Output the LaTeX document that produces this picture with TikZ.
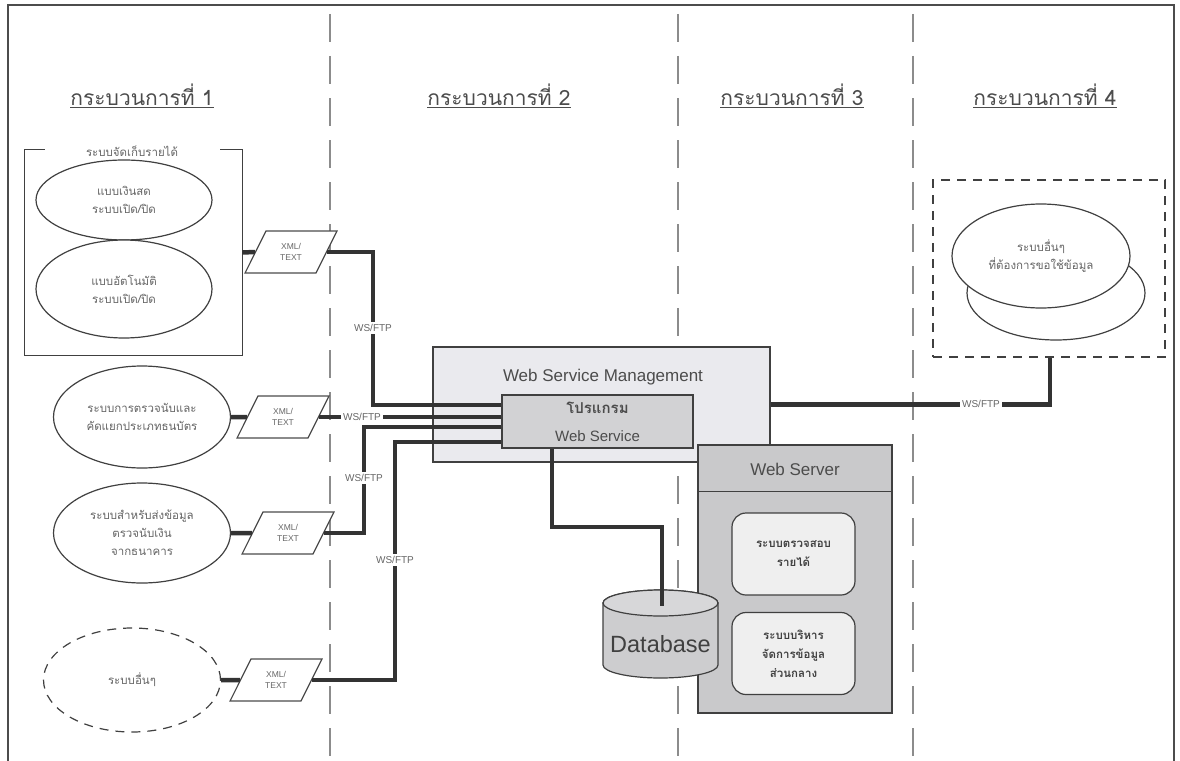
\documentclass[tikz,border=0pt]{standalone}
\usepackage{fontspec}
\setmainfont{Liberation Sans}
\newfontfamily\thai[Script=Thai]{Loma}
\usetikzlibrary{shapes.geometric,calc}
\definecolor{lineC}{HTML}{333333}
\definecolor{wsmFill}{HTML}{EAEAEE}
\definecolor{progFill}{HTML}{D2D2D4}
\definecolor{srvFill}{HTML}{C9C9CB}
\definecolor{boxFill}{HTML}{EFEFEF}
\definecolor{dbFill}{HTML}{CDCDCF}
\begin{document}
\begin{tikzpicture}[x=1pt,y=-1pt,
  sepline/.style={draw=black!45, line width=1.6pt, dash pattern=on 28pt off 14pt},
  heading/.style={font=\thai\fontsize{21}{24}\selectfont, text=black!70, inner sep=0pt},
  ell/.style={ellipse, draw=black!75, line width=1.2pt, fill=white, inner sep=0pt, align=center, font=\thai\fontsize{11.5}{18}\selectfont, text=black!60},
  para/.style={trapezium, trapezium left angle=62, trapezium right angle=118, trapezium stretches=true, draw=black!70, line width=1.2pt, fill=white, minimum width=92pt, minimum height=42pt, inner sep=0pt, align=center, font=\fontsize{8.5}{11}\selectfont, text=black!60},
  conn/.style={draw=lineC, line width=4.5pt},
  wslabel/.style={fill=white, inner sep=2pt, font=\fontsize{10}{12}\selectfont, text=black!60},
  rbox/.style={draw=black!75, line width=1.2pt, fill=boxFill, rounded corners=14pt, minimum width=123pt, minimum height=82pt, align=center, font=\thai\bfseries\fontsize{11.5}{19}\selectfont, text=black!75},
  plainbox/.style={draw=black!75, line width=1.2pt, inner sep=0pt},
]
\useasboundingbox (0,0) rectangle (1180,760);
\fill[white] (0,0) rectangle (1180,760);
\draw[black!70, line width=1.5pt] (8,5) rectangle (1174,775);

% separators
\draw[sepline] (330,14) -- (330,760);
\draw[sepline] (678,14) -- (678,760);
\draw[sepline] (913,14) -- (913,760);

% headings
\node[heading] (h1) at (142,96) {\underline{กระบวนการที่ 1}};
\node[heading] (h2) at (499,96) {\underline{กระบวนการที่ 2}};
\node[heading] (h3) at (792,96) {\underline{กระบวนการที่ 3}};
\node[heading] (h4) at (1045,96) {\underline{กระบวนการที่ 4}};

% group box of process 1
\node[minimum width=217pt, minimum height=205pt, inner sep=0pt] (grp) at (133.5,252.5) {};
\draw[black!75, line width=1.2pt] ($(grp.north west)+(20,0)$) -- (grp.north west) -- (grp.south west) -- (grp.south east) -- (grp.north east) -- ($(grp.north east)+(-22,0)$);
\node[font=\thai\fontsize{11.5}{12}\selectfont, text=black!60] (grpl) at (132,151) {ระบบจัดเก็บรายได้};

\node[ell, minimum width=176pt, minimum height=80pt] (e1) at (124,200) {แบบเงินสด\\ระบบเปิด/ปิด};
\node[ell, minimum width=176pt, minimum height=98pt] (e2) at (124,289) {แบบอัตโนมัติ\\ระบบเปิด/ปิด};
\node[ell, minimum width=177pt, minimum height=102pt] (e3) at (142,417) {ระบบการตรวจนับและ\\คัดแยกประเภทธนบัตร};
\node[ell, minimum width=177pt, minimum height=100pt] (e4) at (142,533) {ระบบสำหรับส่งข้อมูล\\ตรวจนับเงิน\\จากธนาคาร};
\node[ell, dash pattern=on 9pt off 7pt, minimum width=177pt, minimum height=104pt] (e5) at (132,680) {ระบบอื่นๆ};

\node[para] (p1) at (291,252) {XML/\\TEXT};
\node[para] (p2) at (283,417) {XML/\\TEXT};
\node[para] (p3) at (288,533) {XML/\\TEXT};
\node[para] (p4) at (276,680) {XML/\\TEXT};

% Web Service Management
\node[plainbox, fill=wsmFill, minimum width=337pt, minimum height=115pt] (wsm) at (601.5,404.5) {};
\node[font=\fontsize{17}{20}\selectfont, text=black!70] (wsmt) at (603,377) {Web Service Management};

% connectors from process 1
\coordinate (k1) at (373,405);
\coordinate (k3) at (364,427);
\coordinate (k4) at (395,442);
\coordinate (xin) at (502,0);
\draw[conn] (grp.east) -- (p1.west);
\draw[conn] (p1.east) -| (k1) -- (k1 -| xin);
\node[wslabel] (w1) at (373,328) {WS/FTP};
\draw[conn] (e3.east) -- (p2.west);
\draw[conn] (p2.east) -- (p2.east -| xin);
\node[wslabel] (w2) at (362,417) {WS/FTP};
\draw[conn] (e4.east) -- (p3.west);
\draw[conn] (p3.east) -| (k3) -- (k3 -| xin);
\node[wslabel] (w3) at (364,478) {WS/FTP};
\draw[conn] (e5.east) -- (p4.west);
\draw[conn] (p4.east) -| (k4) -- (k4 -| xin);
\node[wslabel] (w4) at (395,560) {WS/FTP};

% program box
\node[plainbox, fill=progFill, minimum width=191pt, minimum height=53pt, align=center, font=\fontsize{15}{28}\selectfont, text=black!70] (prog) at (597.5,421.5) {{\thai\bfseries โปรแกรม}\\Web Service};

% process 4
\node[draw=black!75, line width=1.2pt, dash pattern=on 9pt off 7pt, minimum width=232pt, minimum height=177pt, inner sep=0pt] (rb) at (1049,268.5) {};
\node[ellipse, draw=black!75, line width=1.2pt, fill=white, minimum width=178pt, minimum height=94pt, inner sep=0pt] (eb) at (1056,293) {};
\node[ell, minimum width=178pt, minimum height=104pt] (ef) at (1041,256) {ระบบอื่นๆ\\ที่ต้องการขอใช้ข้อมูล};
\coordinate (k6) at (1050,0);
\draw[conn] (wsm.east) -| (rb.south -| k6);
\node[wslabel] (w5) at (981,404) {WS/FTP};

% Web Server
\node[plainbox, fill=srvFill, minimum width=194pt, minimum height=268pt] (ws) at (795,579) {};
\draw[black!75, line width=1.2pt] ($(ws.north west)+(0,47)$) -- ($(ws.north east)+(0,47)$);
\node[font=\fontsize{17}{19}\selectfont, text=black!70] (wst) at (795,469) {Web Server};
\node[rbox] (r1) at (793.5,554) {ระบบตรวจสอบ\\รายได้};
\node[rbox] (r2) at (793.5,653.5) {ระบบบริหาร\\จัดการข้อมูล\\ส่วนกลาง};

% Database
\filldraw[fill=dbFill, draw=black!75, line width=1.2pt] (603,603) -- (603,665) arc[start angle=180, end angle=0, x radius=57.5, y radius=13] -- (718,603) arc[start angle=0, end angle=-180, x radius=57.5, y radius=13] -- cycle;
\filldraw[fill=dbFill!80!white, draw=black!75, line width=1.2pt] (660.5,603) ellipse[x radius=57.5, y radius=13];
\node[font=\fontsize{23.5}{25}\selectfont, text=black!75] (db) at (660.5,644) {Database};
\coordinate (dbtop) at (662,606);
\coordinate (k5) at (552,527);
\draw[conn] (k5 |- prog.south) -- (k5) -| (dbtop);
\end{tikzpicture}
\end{document}
